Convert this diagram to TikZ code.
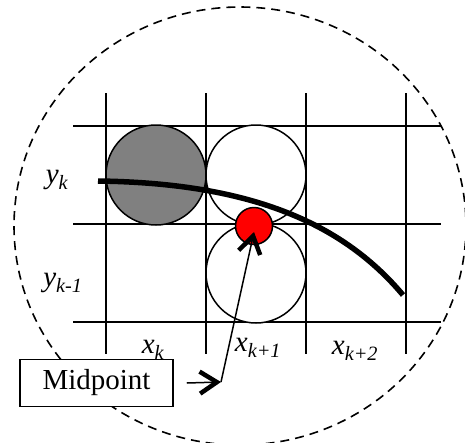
\documentclass[tikz,border=0pt]{standalone}
\usepackage{fontspec}
\setmainfont{Liberation Serif}
\usetikzlibrary{arrows.meta}
\tikzset{
  grid/.style={line width=1.8pt},
  cell/.style={circle,draw,line width=1.5pt,fill=white,minimum size=100pt,inner sep=0pt},
  lbl/.style={font=\fontsize{29}{30}\selectfont\itshape,inner sep=0pt},
  barb/.style={-{Straight Barb[length=17pt,width=22pt,line width=4.5pt]},line width=1.5pt},
}
\begin{document}
\begin{tikzpicture}[x=1pt,y=-1pt]
  \useasboundingbox (0,0) rectangle (465,442);
  % dashed region
  \draw[dash pattern=on 9pt off 6pt,line width=1.6pt] (240,226) ellipse [x radius=226,y radius=219];
  % grid
  \foreach \x in {106,206,306,406}{\draw[grid] (\x,93) -- (\x,354);}
  \foreach \y in {126,224,322}{\draw[grid] (73,\y) -- (441,\y);}
  % pixels
  \node[cell,fill=gray] (pk) at (156,175) {};
  \node[cell] (pe) at (256,175) {};
  \node[cell] (pse) at (256,273) {};
  \draw[line width=5.5pt] (98,181) .. controls (245,183) and (340,220) .. (403,295);
  \node[circle,draw,line width=1.5pt,fill=red,minimum size=37pt,inner sep=0pt] (mp) at (254,226) {};
  % labels
  \node[lbl] (yk) at (57,180) {y\textsubscript{k}};
  \node[lbl] (yk1) at (63,283) {y\textsubscript{k-1}};
  \node[lbl] (xk) at (153,350) {x\textsubscript{k}};
  \node[lbl] (xk1) at (258,348) {x\textsubscript{k+1}};
  \node[lbl] (xk2) at (355,351) {x\textsubscript{k+2}};
  % midpoint label
  \node[draw,line width=1.5pt,fill=white,minimum width=153pt,minimum height=47pt,inner sep=0pt,
        font=\fontsize{29}{30}\selectfont] (mid) at (96.5,383) {Midpoint};
  \coordinate (bend) at (221,382);
  \draw[barb] ([xshift=13pt]mid.east) -- (bend);
  \draw[barb] (bend) -- ([yshift=-6pt]mp.center);
\end{tikzpicture}
\end{document}
